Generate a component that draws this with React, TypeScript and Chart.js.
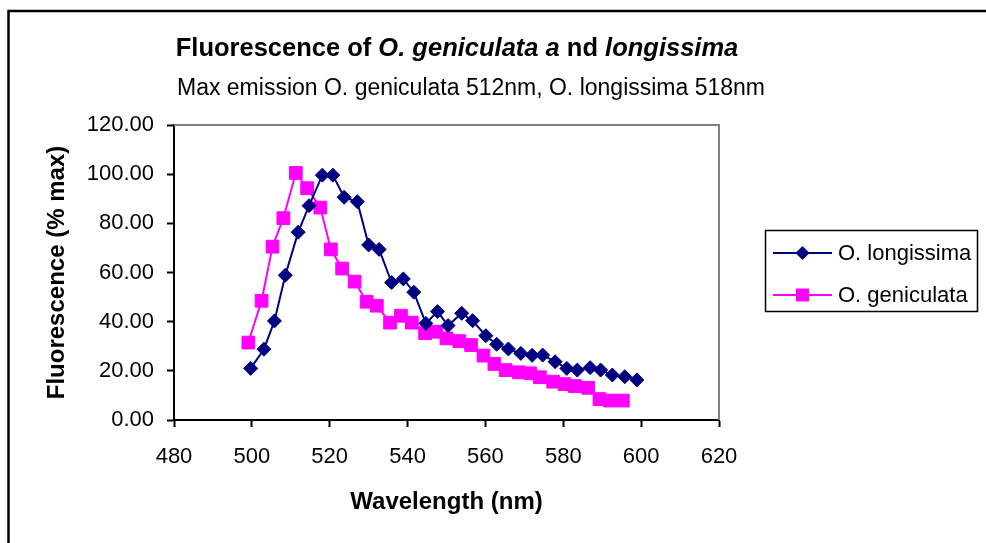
import React, { useEffect, useRef } from 'react';
import { Chart, registerables } from 'chart.js';

Chart.register(...registerables);

const FONT = "'Liberation Sans', Arial, Helvetica, sans-serif";

// Wavelength (nm) and fluorescence (% max)
const wavelengthLongissima = [499.7, 503.1, 505.8, 508.6, 511.9, 514.7, 518.1, 520.8, 523.7, 527.1, 530.0, 532.7, 535.9, 538.9, 541.6, 544.7, 547.7, 550.4, 553.9, 556.7, 560.1, 562.9, 565.9, 569.1, 572.0, 574.7, 577.9, 580.9, 583.6, 586.9, 589.6, 592.6, 595.8, 598.9];
const fluorLongissima = [21.0, 28.8, 40.3, 58.9, 76.4, 87.2, 99.6, 99.6, 90.6, 88.8, 71.2, 69.4, 55.9, 57.4, 52.0, 39.3, 44.1, 38.4, 43.4, 40.4, 34.3, 30.8, 28.9, 27.1, 26.3, 26.4, 23.7, 21.0, 20.3, 21.3, 20.3, 18.3, 17.6, 16.3];

const wavelengthGeniculata = [499.1, 502.5, 505.3, 508.1, 511.3, 514.2, 517.6, 520.3, 523.2, 526.4, 529.5, 532.1, 535.5, 538.3, 541.1, 544.5, 547.3, 550.0, 553.3, 556.3, 559.5, 562.3, 565.2, 568.6, 571.5, 574.0, 577.4, 580.3, 583.0, 586.4, 589.3, 592.0, 595.3];
const fluorGeniculata = [31.5, 48.5, 70.5, 82.1, 100.5, 94.3, 86.4, 69.4, 61.6, 56.3, 48.1, 46.5, 39.6, 42.4, 39.6, 35.3, 35.9, 33.2, 32.1, 30.5, 26.2, 22.8, 20.3, 19.4, 19.0, 17.4, 15.6, 14.6, 13.8, 13.1, 8.5, 7.9, 7.9];

const seriesLabels = ['O. longissima', 'O. geniculata'];
const xRange = [480, 620, 20];
const yRange = [0, 120, 20];

const titleSegments: [string, boolean][] = [
  ['Fluorescence of ', false],
  ['O. geniculata a', true],
  [' nd ', false],
  ['longissima', true],
];
const subtitleText = 'Max emission O. geniculata 512nm, O. longissima 518nm';
const xTitle = 'Wavelength (nm)';
const yTitle = 'Fluorescence (% max)';

const NAVY = '#000080';
const MAGENTA = '#FF00FF';

const decorPlugin = {
  id: 'decor',
  afterDraw(chart: any) {
    const ctx = chart.ctx as CanvasRenderingContext2D;
    const a = chart.chartArea;
    ctx.save();
    // gray top/right plot border
    ctx.strokeStyle = '#808080';
    ctx.lineWidth = 2;
    ctx.beginPath();
    ctx.moveTo(a.left, a.top);
    ctx.lineTo(a.right, a.top);
    ctx.lineTo(a.right, a.bottom);
    ctx.stroke();

    // outer frame
    ctx.strokeStyle = '#000';
    ctx.lineWidth = 2.5;
    ctx.strokeRect(8.5, 11, 1400, 900);

    // title with mixed italics
    ctx.fillStyle = '#000';
    ctx.textBaseline = 'alphabetic';
    ctx.textAlign = 'left';
    const tf = (it: boolean) => `${it ? 'italic ' : ''}bold 25.5px ${FONT}`;
    let total = 0;
    for (const [t, it] of titleSegments) {
      ctx.font = tf(it);
      total += ctx.measureText(t).width;
    }
    let x = 457 - total / 2;
    for (const [t, it] of titleSegments) {
      ctx.font = tf(it);
      ctx.fillText(t, x, 56);
      x += ctx.measureText(t).width;
    }
    // subtitle
    ctx.font = `23px ${FONT}`;
    ctx.textAlign = 'center';
    ctx.fillText(subtitleText, 471, 95);

    // legend
    ctx.lineWidth = 1.5;
    ctx.strokeStyle = '#000';
    ctx.strokeRect(765.5, 230.5, 212, 81);
    const rows = [253, 295];
    chart.data.datasets.forEach((ds: any, i: number) => {
      const y = rows[i];
      ctx.strokeStyle = ds.borderColor;
      ctx.lineWidth = 2;
      ctx.beginPath();
      ctx.moveTo(773, y);
      ctx.lineTo(832, y);
      ctx.stroke();
      ctx.fillStyle = ds.backgroundColor;
      ctx.beginPath();
      if (ds.pointStyle === 'rectRot') {
        ctx.moveTo(802.5 - 7, y);
        ctx.lineTo(802.5, y - 7);
        ctx.lineTo(802.5 + 7, y);
        ctx.lineTo(802.5, y + 7);
        ctx.closePath();
      } else {
        ctx.rect(802.5 - 6.5, y - 6.5, 13, 13);
      }
      ctx.fill();
      ctx.fillStyle = '#000';
      ctx.font = `22px ${FONT}`;
      ctx.textAlign = 'left';
      ctx.textBaseline = 'middle';
      ctx.fillText(ds.label, 838, y + 1);
    });
    ctx.restore();
  },
};

export default function App() {
  const ref = useRef<HTMLCanvasElement>(null);

  useEffect(() => {
    if (!ref.current) return;
    const toPts = (xs: number[], ys: number[]) => xs.map((x, i) => ({ x, y: ys[i] }));
    const chart = new Chart(ref.current, {
      type: 'line',
      data: {
        datasets: [
          {
            label: seriesLabels[0],
            data: toPts(wavelengthLongissima, fluorLongissima),
            borderColor: NAVY,
            backgroundColor: NAVY,
            pointBackgroundColor: NAVY,
            pointBorderColor: NAVY,
            pointStyle: 'rectRot',
            pointRadius: 7,
            pointBorderWidth: 1,
            borderWidth: 2,
            tension: 0,
          },
          {
            label: seriesLabels[1],
            data: toPts(wavelengthGeniculata, fluorGeniculata),
            borderColor: MAGENTA,
            backgroundColor: MAGENTA,
            pointBackgroundColor: MAGENTA,
            pointBorderColor: MAGENTA,
            pointStyle: 'rect',
            pointRadius: 9,
            pointBorderWidth: 1,
            borderWidth: 2,
            tension: 0,
          },
        ],
      },
      options: {
        animation: false,
        responsive: false,
        layout: { padding: { top: 125, right: 267, bottom: 0, left: 0 } },
        plugins: {
          legend: { display: false },
          title: { display: false },
          tooltip: { enabled: false },
        },
        scales: {
          x: {
            type: 'linear',
            min: xRange[0],
            max: xRange[1],
            ticks: {
              stepSize: xRange[2],
              color: '#000',
              font: { family: FONT, size: 22 },
              padding: 17,
              maxRotation: 0,
            },
            grid: { drawOnChartArea: false, drawTicks: true, tickLength: 7, tickColor: '#000', tickWidth: 2 },
            border: { display: true, color: '#000', width: 2 },
            title: {
              display: true,
              text: xTitle,
              color: '#000',
              font: { family: FONT, size: 24, weight: 'bold', lineHeight: 1 },
              padding: { top: 0, bottom: 29 },
            },
            afterFit: (s: any) => { s.height = 123; },
          },
          y: {
            type: 'linear',
            min: yRange[0],
            max: yRange[1],
            ticks: {
              stepSize: yRange[2],
              color: '#000',
              font: { family: FONT, size: 22 },
              padding: 13,
              callback: (v: any) => Number(v).toFixed(2),
            },
            grid: { drawOnChartArea: false, drawTicks: true, tickLength: 7, tickColor: '#000', tickWidth: 2 },
            border: { display: true, color: '#000', width: 2 },
            title: {
              display: true,
              text: yTitle,
              color: '#000',
              font: { family: FONT, size: 24, weight: 'bold', lineHeight: 1 },
              padding: { top: 45, bottom: 0 },
            },
            afterFit: (s: any) => { s.width = 174; },
          },
        },
      },
      plugins: [decorPlugin],
    });
    return () => chart.destroy();
  }, []);

  return (
    <div style={{ position: 'absolute', left: 0, top: 0, width: 986, height: 543, background: '#fff' }}>
      <canvas ref={ref} width={986} height={543} style={{ display: 'block' }} />
    </div>
  );
}
